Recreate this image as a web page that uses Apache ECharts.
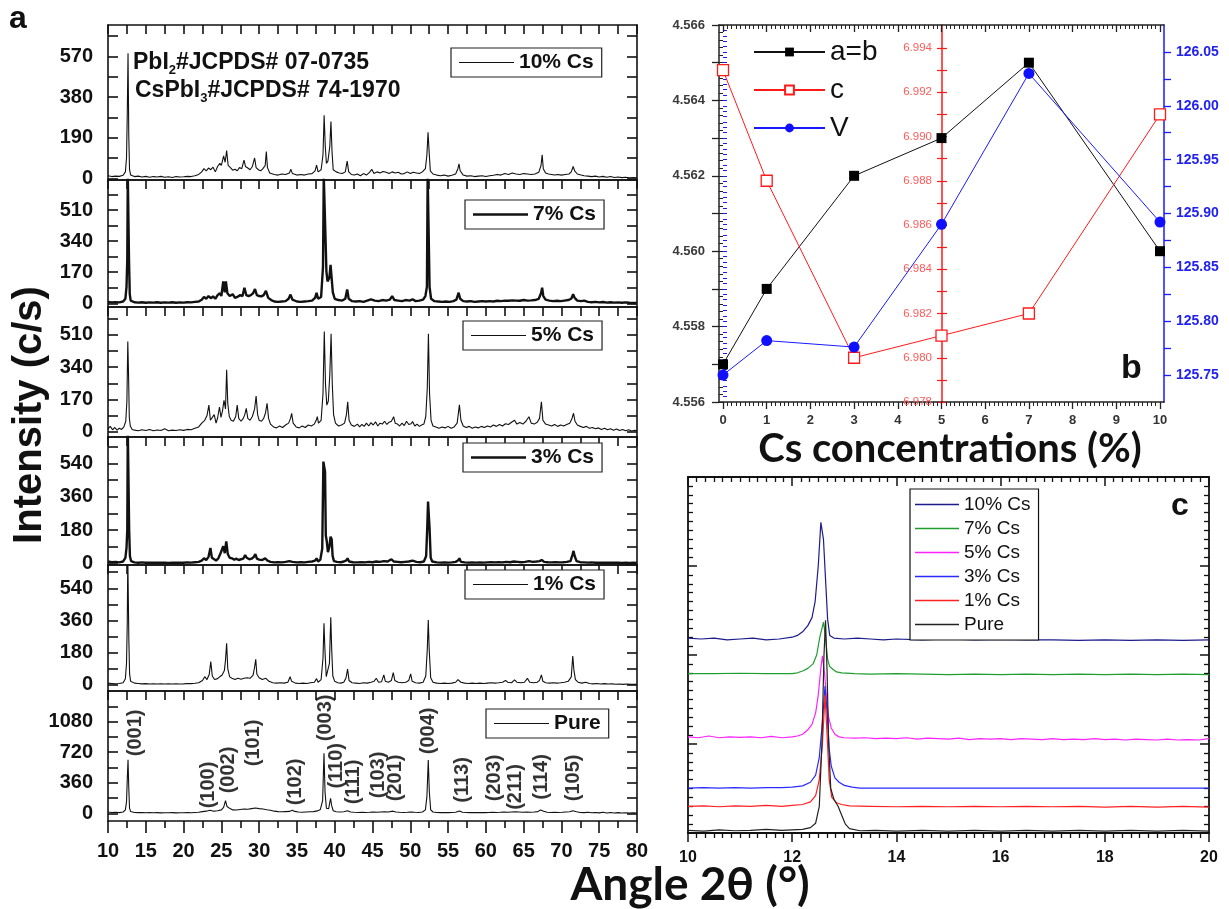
<!DOCTYPE html>
<html><head><meta charset="utf-8">
<script src="https://cdn.jsdelivr.net/npm/echarts@6/dist/echarts.min.js"></script>
<style>html,body{margin:0;padding:0;background:#fff}#c{width:1229px;height:909px}</style>
</head><body><div id="c"></div>
<script>
// ---------------- DATA ----------------
// Panel a: XRD patterns, flat [2theta, intensity, ...]
const t10 = [10.0,12, 10.5,8, 11,10, 11.5,9, 12.0,14, 12.3,30, 12.45,95, 12.55,300, 12.65,585, 12.75,200, 12.85,40, 13.0,15, 13.5,8, 14,10, 14.5,6, 15,9, 15.5,5, 16,8, 16.5,6, 17,9, 17.5,5, 18,7, 18.5,4, 19,8, 19.5,6, 20,7, 20.5,9, 21,8, 21.5,12, 22,18, 22.4,30, 22.7,45, 23.0,35, 23.3,48, 23.6,40, 23.9,52, 24.2,30, 24.5,55, 24.8,70, 25.0,60, 25.3,105, 25.5,75, 25.7,130, 25.9,60, 26.2,50, 26.5,38, 26.8,42, 27.1,35, 27.4,50, 27.7,45, 28.0,85, 28.2,55, 28.5,48, 28.8,40, 29.1,55, 29.4,95, 29.6,50, 29.9,40, 30.2,35, 30.5,45, 30.8,60, 30.95,125, 31.1,50, 31.4,25, 32,18, 32.5,15, 33,20, 33.5,18, 34.0,25, 34.2,42, 34.4,22, 35,15, 35.5,18, 36,15, 36.5,20, 37,22, 37.4,35, 37.6,62, 37.8,30, 38.2,40, 38.45,110, 38.6,295, 38.75,150, 38.9,70, 39.1,80, 39.35,150, 39.5,265, 39.65,120, 39.8,40, 40.2,30, 40.6,25, 41.0,22, 41.4,30, 41.65,80, 41.85,30, 42.2,18, 42.6,15, 43.0,20, 43.4,12, 43.8,22, 44.2,15, 44.6,28, 44.9,42, 45.2,22, 45.6,30, 46.0,25, 46.4,32, 46.8,28, 47.2,22, 47.6,30, 48.0,25, 48.4,28, 48.8,20, 49.2,22, 49.6,30, 50.0,22, 50.4,28, 50.8,25, 51.2,22, 51.6,30, 52.0,45, 52.2,110, 52.35,215, 52.5,120, 52.65,35, 53,20, 53.5,15, 54,12, 54.5,15, 55,10, 55.5,14, 56.0,20, 56.3,45, 56.45,68, 56.6,35, 57,15, 57.5,10, 58,12, 58.5,8, 59,10, 59.5,12, 60,8, 60.5,12, 61,14, 61.5,18, 62,15, 62.5,22, 63,18, 63.5,25, 64,20, 64.5,18, 65,22, 65.5,20, 66,18, 66.5,20, 67.0,28, 67.3,60, 67.45,110, 67.6,45, 67.9,25, 68.3,20, 68.7,18, 69.1,15, 69.5,18, 70,15, 70.5,18, 71,20, 71.3,30, 71.55,55, 71.75,35, 72.1,20, 72.6,15, 73,12, 73.5,10, 74,8, 74.5,10, 75,6, 75.5,9, 76,5, 76.5,8, 77,4, 77.5,6, 78,3, 78.5,5, 79,2, 79.5,4, 80,2];
const t7 = [10.0,8, 10.5,5, 11,6, 11.5,5, 12.0,10, 12.3,25, 12.45,90, 12.55,240, 12.62,700, 12.7,700, 12.78,240, 12.88,50, 13.0,15, 13.5,6, 14,4, 14.5,6, 15,3, 15.5,5, 16,4, 16.5,6, 17,3, 17.5,5, 18,4, 18.5,6, 19,3, 19.5,5, 20,4, 20.5,6, 21,5, 21.5,8, 22,10, 22.4,20, 22.7,35, 23.0,25, 23.3,40, 23.6,28, 23.9,38, 24.2,25, 24.5,45, 24.8,55, 25.0,40, 25.25,120, 25.45,60, 25.6,120, 25.8,55, 26.1,40, 26.5,50, 26.8,30, 27.1,35, 27.5,45, 27.8,40, 28.05,85, 28.3,45, 28.6,40, 28.9,45, 29.2,55, 29.45,78, 29.7,45, 30.0,40, 30.3,38, 30.6,45, 30.9,68, 31.2,30, 31.6,18, 32,10, 32.5,8, 33,10, 33.5,12, 33.9,25, 34.15,48, 34.4,20, 35,10, 35.5,8, 36,10, 36.5,12, 37.0,15, 37.4,30, 37.6,58, 37.8,25, 38.2,35, 38.45,200, 38.55,700, 38.7,700, 38.8,330, 38.9,175, 39.05,120, 39.3,140, 39.45,210, 39.6,200, 39.75,60, 40.0,25, 40.5,18, 41.0,15, 41.4,25, 41.65,76, 41.85,25, 42.3,12, 42.8,10, 43.3,12, 43.8,8, 44.3,15, 44.8,22, 45.3,15, 45.8,12, 46.3,18, 46.8,15, 47.3,20, 47.6,40, 47.9,18, 48.4,15, 48.9,12, 49.4,18, 49.9,15, 50.3,22, 50.7,12, 51.2,15, 51.7,20, 52.0,40, 52.2,90, 52.3,700, 52.45,700, 52.55,90, 52.75,25, 53.2,12, 53.7,10, 54.2,8, 54.7,10, 55.2,8, 55.7,12, 56.1,20, 56.4,58, 56.6,25, 57,12, 57.5,10, 58,12, 58.5,8, 59,10, 59.5,12, 60,10, 60.5,12, 61,10, 61.5,14, 62,12, 62.5,15, 63,14, 63.5,16, 64,15, 64.5,14, 65,18, 65.5,15, 66,16, 66.5,18, 67.0,25, 67.3,55, 67.45,85, 67.6,40, 67.9,20, 68.4,15, 68.9,12, 69.4,14, 69.9,12, 70.4,15, 70.9,18, 71.3,25, 71.55,50, 71.75,30, 72.1,15, 72.6,12, 73,15, 73.5,8, 74,6, 74.5,8, 75,5, 75.5,7, 76,4, 76.5,6, 77,4, 77.5,5, 78,3, 78.5,5, 79,3, 79.5,2, 80,2];
const t5 = [10.0,15, 10.3,28, 10.6,10, 10.9,22, 11.2,8, 11.5,18, 11.8,12, 12.1,25, 12.35,55, 12.5,160, 12.62,475, 12.72,300, 12.82,75, 12.95,30, 13.2,12, 13.5,8, 14,5, 14.5,10, 15,6, 15.5,12, 16,5, 16.5,9, 17,6, 17.5,15, 18,5, 18.5,8, 19,6, 19.5,10, 20,7, 20.5,12, 21,10, 21.5,18, 22,25, 22.4,45, 22.8,60, 23.1,85, 23.35,140, 23.55,60, 23.8,50, 24.05,90, 24.3,45, 24.5,72, 24.75,130, 24.95,75, 25.15,110, 25.35,165, 25.55,120, 25.7,326, 25.85,150, 26.05,80, 26.3,60, 26.6,55, 26.9,80, 27.1,140, 27.3,70, 27.6,55, 27.9,70, 28.1,90, 28.3,123, 28.5,70, 28.8,60, 29.1,80, 29.4,120, 29.6,188, 29.8,90, 30.0,60, 30.3,55, 30.6,70, 30.85,100, 31.05,150, 31.25,70, 31.5,40, 31.9,25, 32.3,20, 32.7,30, 33.1,22, 33.5,35, 33.9,45, 34.15,70, 34.3,97, 34.5,45, 34.9,25, 35.3,20, 35.7,30, 36.1,22, 36.5,35, 36.9,30, 37.3,40, 37.55,60, 37.7,79, 37.85,45, 38.2,60, 38.45,200, 38.62,528, 38.78,250, 38.95,140, 39.15,160, 39.35,300, 39.52,516, 39.68,250, 39.85,90, 40.1,45, 40.5,30, 40.9,35, 41.3,45, 41.55,90, 41.72,158, 41.9,60, 42.2,35, 42.6,28, 43.0,40, 43.3,25, 43.6,38, 43.9,28, 44.2,45, 44.5,30, 44.8,48, 45.1,35, 45.4,52, 45.7,30, 46.0,45, 46.3,40, 46.6,55, 46.9,38, 47.2,50, 47.5,55, 47.8,79, 48.0,45, 48.3,40, 48.6,30, 48.9,45, 49.2,32, 49.5,55, 49.8,38, 50.1,42, 50.3,53, 50.6,30, 50.9,40, 51.2,28, 51.5,35, 51.8,40, 52.05,80, 52.25,230, 52.4,516, 52.55,200, 52.75,60, 53.0,30, 53.4,25, 53.8,18, 54.2,25, 54.6,20, 55.0,28, 55.4,18, 55.8,25, 56.2,45, 56.5,141, 56.7,60, 57.0,30, 57.4,22, 57.8,28, 58.2,18, 58.6,25, 59.0,20, 59.4,28, 59.8,22, 60.2,30, 60.6,25, 61.0,35, 61.4,28, 61.8,38, 62.2,30, 62.6,42, 63.0,38, 63.4,50, 63.8,60, 64.1,40, 64.5,48, 64.9,40, 65.3,55, 65.7,79, 66.0,45, 66.4,40, 66.8,50, 67.1,70, 67.35,158, 67.55,60, 67.9,40, 68.3,35, 68.7,30, 69.1,38, 69.5,28, 69.9,35, 70.3,30, 70.7,38, 71.1,45, 71.4,70, 71.6,97, 71.8,55, 72.1,35, 72.5,28, 72.9,22, 73.3,28, 73.7,18, 74.1,22, 74.5,15, 74.9,20, 75.3,12, 75.7,18, 76.1,10, 76.5,15, 76.9,8, 77.3,14, 77.7,6, 78.1,12, 78.5,5, 78.9,10, 79.3,4, 79.7,8, 80,3];
const t3 = [10.0,10, 10.5,6, 11,8, 11.5,5, 12.0,10, 12.3,30, 12.45,83, 12.55,180, 12.62,720, 12.72,720, 12.8,180, 12.9,40, 13.05,12, 13.5,5, 14,3, 14.5,5, 15,3, 15.5,4, 16,3, 16.5,4, 17,3, 17.5,4, 18,2, 18.5,4, 19,3, 19.5,4, 20,3, 20.5,5, 21,4, 21.5,6, 22,8, 22.4,15, 22.7,27, 23.0,18, 23.3,35, 23.55,83, 23.75,30, 24.0,22, 24.3,15, 24.6,27, 24.85,50, 25.05,60, 25.25,92, 25.45,55, 25.65,119, 25.85,50, 26.1,30, 26.4,27, 26.7,20, 27.0,25, 27.3,18, 27.6,22, 27.9,25, 28.15,45, 28.35,30, 28.7,22, 29.0,25, 29.3,35, 29.5,50, 29.7,25, 30.0,20, 30.4,18, 30.8,27, 31.1,15, 31.5,8, 32,5, 32.5,6, 33,5, 33.5,8, 34.0,12, 34.2,22, 34.4,8, 35,5, 35.5,6, 36,5, 36.5,8, 37.0,10, 37.4,15, 37.6,27, 37.8,10, 38.1,20, 38.35,80, 38.5,549, 38.62,549, 38.72,495, 38.82,150, 38.95,119, 39.1,60, 39.3,90, 39.45,144, 39.6,130, 39.72,40, 39.9,12, 40.3,8, 40.8,6, 41.2,10, 41.5,15, 41.7,27, 41.9,10, 42.4,6, 43,5, 43.5,6, 44,5, 44.5,8, 45,6, 45.5,10, 46,8, 46.5,12, 47,10, 47.5,22, 47.8,10, 48.3,8, 48.8,6, 49.3,8, 49.8,10, 50.3,15, 50.8,8, 51.3,6, 51.8,10, 52.1,40, 52.25,200, 52.35,333, 52.45,333, 52.55,190, 52.7,30, 52.9,10, 53.5,5, 54,4, 54.5,5, 55,4, 55.5,5, 56.0,8, 56.3,15, 56.5,27, 56.7,8, 57.2,5, 57.7,4, 58.2,5, 58.7,4, 59.2,5, 59.7,4, 60.2,5, 60.7,6, 61.2,5, 61.7,6, 62.2,5, 62.7,8, 63.2,6, 63.7,10, 64.2,8, 64.7,6, 65.2,8, 65.7,12, 66.2,8, 66.7,10, 67.1,12, 67.4,18, 67.7,8, 68.2,6, 68.7,5, 69.2,6, 69.7,5, 70.2,6, 70.7,8, 71.2,12, 71.45,45, 71.6,67, 71.75,40, 72.0,12, 72.5,6, 73,5, 73.5,4, 74,5, 74.5,3, 75,4, 75.5,3, 76,4, 76.5,3, 77,4, 77.5,3, 78,2, 78.5,3, 79,2, 79.5,3, 80,2];
const t1 = [10.0,10, 10.5,8, 11,6, 11.5,8, 12.0,12, 12.3,35, 12.45,121, 12.55,350, 12.62,720, 12.68,720, 12.76,250, 12.86,60, 13.0,20, 13.5,10, 14,8, 14.5,6, 15,7, 15.5,5, 16,6, 16.5,5, 17,6, 17.5,5, 18,6, 18.5,5, 19,6, 19.5,5, 20,6, 20.5,8, 21,7, 21.5,9, 22,12, 22.5,25, 22.8,46, 23.1,30, 23.4,60, 23.6,130, 23.8,50, 24.1,30, 24.5,35, 24.8,46, 25.1,55, 25.4,80, 25.55,140, 25.7,233, 25.85,90, 26.1,45, 26.4,37, 26.8,30, 27.2,37, 27.6,32, 28.0,37, 28.4,40, 28.8,37, 29.2,55, 29.4,100, 29.55,143, 29.7,60, 30.0,40, 30.4,30, 30.9,37, 31.3,20, 31.8,12, 32.3,10, 32.8,12, 33.3,10, 33.8,15, 34.1,46, 34.3,20, 34.8,10, 35.3,8, 35.8,10, 36.3,8, 36.8,12, 37.3,15, 37.6,35, 37.8,15, 38.2,30, 38.45,150, 38.58,345, 38.7,200, 38.88,46, 39.05,40, 39.3,120, 39.48,378, 39.6,200, 39.75,50, 40.0,20, 40.4,12, 40.8,10, 41.2,15, 41.5,40, 41.7,88, 41.9,25, 42.3,12, 42.8,10, 43.3,8, 43.8,12, 44.3,10, 44.8,15, 45.2,20, 45.5,37, 45.8,15, 46.2,18, 46.5,56, 46.7,20, 47.1,15, 47.5,25, 47.75,69, 47.95,25, 48.4,15, 48.9,12, 49.4,15, 49.8,25, 50.05,62, 50.25,20, 50.7,12, 51.2,10, 51.7,15, 52.05,50, 52.25,200, 52.38,363, 52.5,200, 52.7,40, 53.0,15, 53.5,10, 54,8, 54.5,10, 55,8, 55.5,10, 56.0,15, 56.3,30, 56.5,37, 56.7,15, 57.2,10, 57.7,8, 58.2,10, 58.7,8, 59.2,10, 59.7,8, 60.2,10, 60.7,12, 61.2,10, 61.7,12, 62.2,15, 62.6,25, 62.9,15, 63.4,12, 63.8,28, 64.1,15, 64.6,12, 65.1,15, 65.5,37, 65.8,15, 66.3,12, 66.8,15, 67.1,25, 67.35,56, 67.55,20, 67.9,12, 68.4,10, 68.9,12, 69.4,10, 69.9,12, 70.4,15, 70.9,20, 71.3,45, 71.5,162, 71.65,84, 71.85,30, 72.2,15, 72.7,10, 73.2,15, 73.7,8, 74.2,6, 74.7,8, 75.2,5, 75.7,7, 76.2,5, 76.7,6, 77.2,4, 77.7,5, 78.2,3, 78.7,5, 79.2,3, 79.7,4, 80,3];
const tPure = [10.0,15, 10.5,10, 11,12, 11.5,8, 12.0,15, 12.3,40, 12.45,135, 12.55,400, 12.65,630, 12.75,300, 12.85,60, 13.0,20, 13.5,10, 14,8, 14.5,10, 15,6, 15.5,8, 16,6, 16.5,8, 17,5, 17.5,7, 18,6, 18.5,8, 19,5, 19.5,7, 20,6, 20.5,8, 21,7, 21.5,10, 22,12, 22.5,20, 23.0,25, 23.5,35, 24.0,25, 24.5,30, 25.0,40, 25.3,70, 25.55,149, 25.75,80, 25.95,98, 26.15,55, 26.5,40, 27.0,38, 27.5,45, 28.0,50, 28.5,48, 29.0,55, 29.5,62, 30.0,55, 30.5,50, 31.0,42, 31.5,35, 32.0,25, 32.5,20, 33.0,18, 33.5,20, 34.0,22, 34.4,35, 34.7,22, 35.2,15, 35.7,12, 36.2,15, 36.7,18, 37.2,20, 37.7,28, 38.1,45, 38.4,150, 38.58,708, 38.72,250, 38.9,60, 39.2,55, 39.45,177, 39.6,90, 39.8,30, 40.2,18, 40.7,15, 41.2,18, 41.7,30, 42.1,15, 42.6,12, 43.1,10, 43.6,12, 44.1,10, 44.6,12, 45.1,15, 45.6,12, 46.1,15, 46.6,18, 47.1,15, 47.7,25, 48.1,15, 48.6,12, 49.1,10, 49.6,12, 50.1,15, 50.6,12, 51.1,10, 51.6,15, 52.0,40, 52.2,200, 52.38,629, 52.52,250, 52.7,40, 53.0,15, 53.5,10, 54,8, 54.5,10, 55,8, 55.5,10, 56.0,12, 56.5,28, 56.9,12, 57.4,10, 57.9,8, 58.4,10, 58.9,8, 59.4,10, 59.9,8, 60.4,10, 60.9,12, 61.4,10, 61.9,12, 62.4,15, 62.9,12, 63.4,15, 63.9,18, 64.4,15, 64.9,12, 65.4,15, 65.9,12, 66.4,15, 66.9,20, 67.25,40, 67.45,55, 67.65,25, 68.1,12, 68.6,10, 69.1,12, 69.6,10, 70.1,12, 70.6,15, 71.1,18, 71.5,30, 71.75,35, 72.0,18, 72.5,10, 73.0,8, 73.5,12, 74.0,6, 74.5,10, 75.0,5, 75.5,12, 76.0,4, 76.5,10, 77.0,4, 77.5,8, 78.0,3, 78.5,6, 79.0,3, 79.5,5, 80,3];
const aNames = ['10% Cs','7% Cs','5% Cs','3% Cs','1% Cs','Pure'];
const aTickLabels = [[0,190,380,570],[0,170,340,510],[0,170,340,510],[0,180,360,540],[0,180,360,540],[0,360,720,1080]];
const xTickLabelsA = [10,15,20,25,30,35,40,45,50,55,60,65,70,75,80];
const hklNames = ['(001)','(100)','(002)','(101)','(102)','(003)','(110)','(111)','(103)','(201)','(004)','(113)','(203)','(211)','(114)','(105)'];
const hklX = [13.65,23.25,25.95,29.2,34.75,38.8,40.25,42.45,45.75,48.05,52.45,56.85,61.15,63.95,67.35,71.65];
const hklY = [948,334,511,830,370,1125,560,370,452,417,972,393,417,310,428,417];

// Panel b: lattice parameters vs Cs %
const csConc = [0,1,3,5,7,10];
const latticeAB = [4.557,4.559,4.562,4.563,4.565,4.560];
const latticeC = [6.993,6.988,6.980,6.981,6.982,6.991];
const cellV = [125.75,125.782,125.776,125.890,126.030,125.892];
const bLeftLabels = [4.556,4.558,4.560,4.562,4.564,4.566];
const bRedLabels = [6.978,6.980,6.982,6.984,6.986,6.988,6.990,6.992,6.994];
const bBlueLabels = [125.75,125.80,125.85,125.90,125.95,126.00,126.05];
const bXLabels = [0,1,2,3,4,5,6,7,8,9,10];

// Panel c: zoom on (001) peak, offset traces
const cNames = ['10% Cs','7% Cs','5% Cs','3% Cs','1% Cs','Pure'];
const c10 = [10.0,2.19, 10.25,2.18, 10.5,2.19, 10.75,2.17, 11.0,2.18, 11.25,2.19, 11.5,2.17, 11.75,2.18, 12.0,2.2, 12.1,2.22, 12.2,2.26, 12.3,2.33, 12.38,2.42, 12.44,2.6, 12.5,3.0, 12.55,3.49, 12.6,3.3, 12.64,2.85, 12.68,2.4, 12.72,2.22, 12.8,2.19, 13.0,2.18, 13.25,2.19, 13.5,2.18, 13.75,2.17, 14.0,2.18, 14.5,2.17, 15.0,2.18, 15.5,2.17, 16.0,2.175, 16.5,2.17, 17.0,2.17, 17.5,2.165, 18.0,2.17, 18.5,2.165, 19.0,2.17, 19.5,2.165, 20.0,2.17];
const c7 = [10.0,1.79, 10.5,1.79, 11.0,1.795, 11.5,1.79, 12.0,1.79, 12.1,1.80, 12.2,1.82, 12.3,1.85, 12.4,1.9, 12.47,2.0, 12.53,2.2, 12.6,2.37, 12.64,2.2, 12.68,1.95, 12.72,1.87, 12.78,1.84, 12.85,1.81, 12.95,1.80, 13.2,1.79, 13.5,1.785, 14.0,1.79, 14.5,1.785, 15.0,1.78, 15.5,1.785, 16.0,1.78, 16.5,1.785, 17.0,1.78, 17.5,1.785, 18.0,1.78, 18.5,1.785, 19.0,1.78, 19.5,1.785, 20.0,1.78];
const c5 = [10.0,1.08, 10.2,1.07, 10.4,1.09, 10.6,1.07, 10.8,1.08, 11.0,1.075, 11.2,1.08, 11.4,1.07, 11.6,1.085, 11.8,1.07, 12.0,1.08, 12.1,1.09, 12.2,1.11, 12.3,1.16, 12.38,1.22, 12.45,1.35, 12.5,1.55, 12.55,1.85, 12.58,1.99, 12.62,1.80, 12.66,1.5, 12.7,1.3, 12.75,1.18, 12.82,1.11, 12.9,1.08, 13.0,1.07, 13.2,1.065, 13.4,1.07, 13.6,1.06, 13.8,1.065, 14.0,1.06, 14.2,1.07, 14.4,1.055, 14.6,1.065, 14.8,1.06, 15.0,1.055, 15.2,1.065, 15.4,1.05, 15.6,1.06, 15.8,1.055, 16.0,1.06, 16.2,1.05, 16.4,1.06, 16.6,1.055, 16.8,1.05, 17.0,1.06, 17.2,1.05, 17.4,1.055, 17.6,1.05, 17.8,1.06, 18.0,1.05, 18.2,1.055, 18.4,1.045, 18.6,1.055, 18.8,1.05, 19.0,1.045, 19.2,1.055, 19.4,1.045, 19.6,1.05, 19.8,1.045, 20.0,1.06];
const c3 = [10.0,0.505, 10.3,0.51, 10.6,0.505, 10.9,0.51, 11.2,0.505, 11.5,0.51, 11.8,0.51, 12.0,0.515, 12.2,0.53, 12.35,0.57, 12.45,0.65, 12.52,0.85, 12.58,1.25, 12.63,1.65, 12.67,1.35, 12.71,0.95, 12.75,0.75, 12.82,0.62, 12.9,0.57, 13.0,0.535, 13.15,0.515, 13.3,0.505, 14.0,0.505, 16.0,0.505, 18.0,0.505, 20.0,0.505];
const c1 = [10.0,0.30, 10.3,0.305, 10.6,0.295, 10.9,0.305, 11.2,0.30, 11.5,0.31, 11.8,0.30, 12.0,0.31, 12.2,0.32, 12.35,0.35, 12.45,0.42, 12.52,0.6, 12.58,1.0, 12.63,1.55, 12.67,1.1, 12.71,0.6, 12.76,0.4, 12.85,0.34, 12.95,0.32, 13.1,0.305, 13.5,0.30, 14.0,0.295, 14.5,0.30, 15.0,0.295, 15.5,0.30, 16.0,0.295, 16.5,0.30, 17.0,0.295, 17.5,0.30, 18.0,0.29, 18.5,0.30, 19.0,0.29, 19.5,0.30, 20.0,0.29];
const cPure = [10.0,0.03, 10.3,0.02, 10.6,0.035, 10.9,0.025, 11.2,0.03, 11.5,0.04, 11.8,0.03, 12.0,0.035, 12.2,0.04, 12.35,0.06, 12.45,0.11, 12.52,0.3, 12.57,1.0, 12.61,2.0, 12.64,2.39, 12.67,1.8, 12.7,1.0, 12.74,0.5, 12.8,0.38, 12.88,0.3, 12.95,0.2, 13.02,0.1, 13.1,0.05, 13.3,0.025, 13.6,0.03, 14.0,0.02, 14.5,0.03, 15.0,0.02, 15.5,0.03, 16.0,0.02, 16.5,0.03, 17.0,0.02, 17.5,0.03, 18.0,0.02, 18.5,0.03, 19.0,0.02, 19.5,0.03, 20.0,0.02];
const cXLabels = [10,12,14,16,18,20];

// ---------------- LAYOUT / STYLE ----------------
const FONT = '"Liberation Sans", Arial, sans-serif';
const TFONT = 'Lato, "Open Sans", sans-serif';
const aTraces = [t10,t7,t5,t3,t1,tPure];
const aTop = [25,180,307,437,565,691];
const aBot = [180,307,437,565,691,821];
const aMin = [-8,-20,-28,-9,-34,-91];
const aMax = [717,674,657,682,670,1442];
const aLW = [1.1,2.4,1.1,2.4,1.1,1.1];
const aLegL = [451,465,463,463,465,486];
const aLegT = [48,200,321,443,570,709];
const cColors = ['#1c1c8c','#1f9e2f','#ff22ff','#2a2aff','#ff2020','#222222'];
const cTraces = [c10,c7,c5,c3,c1,cPure];

function pairs(a){const r=[];for(let i=0;i<a.length;i+=2)r.push([a[i],a[i+1]]);return r;}
function steps(a,b,s){const r=[];const n=Math.round((b-a)/s);for(let i=0;i<=n;i++)r.push(+(a+i*s).toFixed(6));return r;}

const LC = '#111';
const grid=[], xAxis=[], yAxis=[], series=[], legend=[];

for(let i=0;i<6;i++){
  grid.push({left:108, width:529, top:aTop[i], height:aBot[i]-aTop[i], containLabel:false, outerBoundsMode:'none'});
  const last = i===5;
  xAxis.push({type:'value', gridIndex:i, min:10, max:80, interval:5, position:'bottom',
    axisLine:{show:true,onZero:false,lineStyle:{color:LC,width:1.6}},
    axisTick:{show:last,inside:false,length:12,lineStyle:{color:LC,width:1.6}},
    minorTick:{show:last,splitNumber:2,length:7,lineStyle:{color:LC,width:1.6}},
    axisLabel:{show:last,margin:20,fontSize:20,fontWeight:'bold',color:LC,fontFamily:FONT,customValues:xTickLabelsA},
    splitLine:{show:false}});
  xAxis.push({type:'value', gridIndex:i, min:10, max:80, interval:5, position:'top',
    axisLine:{show:true,onZero:false,lineStyle:{color:LC,width:1.6}},
    axisTick:{show:true,inside:true,length:9,lineStyle:{color:LC,width:1.6}},
    minorTick:{show:true,splitNumber:2,length:9,lineStyle:{color:LC,width:1.6}},
    axisLabel:{show:false}, splitLine:{show:false}});
  const lab = aTickLabels[i];
  const half = (lab[1]-lab[0])/2;
  const tks = steps(0, lab[lab.length-1]+half, half).filter(v=>v<aMax[i]);
  yAxis.push({type:'value', gridIndex:i, min:aMin[i], max:aMax[i], position:'left',
    axisLine:{show:true,onZero:false,lineStyle:{color:LC,width:1.6}},
    axisTick:{show:true,inside:true,length:10,customValues:tks,lineStyle:{color:LC,width:1.6}},
    axisLabel:{show:true,customValues:lab,margin:15,fontSize:20,fontWeight:'bold',color:LC,fontFamily:FONT,formatter:v=>String(v)},
    splitLine:{show:false}});
  yAxis.push({type:'value', gridIndex:i, min:aMin[i], max:aMax[i], position:'right',
    axisLine:{show:true,onZero:false,lineStyle:{color:LC,width:1.6}},
    axisTick:{show:true,inside:true,length:10,customValues:tks,lineStyle:{color:LC,width:1.6}},
    axisLabel:{show:false}, splitLine:{show:false}});
  series.push({type:'line', name:aNames[i], xAxisIndex:2*i, yAxisIndex:2*i, data:pairs(aTraces[i]),
    symbol:'none', showSymbol:false, clip:true, lineStyle:{color:'#111',width:aLW[i]}, itemStyle:{color:'#111'}, z:3});
  legend.push({data:[aNames[i]], left:aLegL[i], top:aLegT[i], orient:'horizontal', selectedMode:false,
    icon:'rect', itemWidth:55, itemHeight:aLW[i], itemGap:0, padding:[4,8,4,8], borderColor:'#222', borderWidth:1.2, backgroundColor:'#fff',
    textStyle:{fontSize:21,fontWeight:'bold',color:'#111',fontFamily:FONT}});
}
// hkl annotations in Pure subplot
series.push({type:'scatter', name:'hkl', xAxisIndex:10, yAxisIndex:10, symbolSize:0, silent:true, z:5,
  data: hklNames.map((n,k)=>({name:n, value:[hklX[k], hklY[k]]})),
  label:{show:true, position:'inside', formatter:'{b}', rotate:90, fontSize:20, fontWeight:'bold', color:'#000', fontFamily:FONT}});

// ---- Panel b (grid 6)
grid.push({left:719, right:65, top:25, bottom:507, containLabel:false, outerBoundsMode:'none'});
const bxMin=-0.0915, bxMax=10.0915;
const bMinorX = steps(0,10,0.1);
xAxis.push({type:'value', gridIndex:6, min:bxMin, max:bxMax, position:'bottom',
  axisLine:{show:true,onZero:false,lineStyle:{color:'#222',width:1.5}},
  axisTick:{show:true,inside:false,length:7,customValues:bXLabels,lineStyle:{color:'#222',width:1.3}},
  axisLabel:{show:true,customValues:bXLabels,margin:12,fontSize:13,fontWeight:'bold',color:'#333',fontFamily:FONT},
  splitLine:{show:false}});
xAxis.push({type:'value', gridIndex:6, min:bxMin, max:bxMax, position:'bottom',
  axisLine:{show:false}, axisTick:{show:true,inside:false,length:4,customValues:bMinorX,lineStyle:{color:'#222',width:1}},
  axisLabel:{show:false}, splitLine:{show:false}});
xAxis.push({type:'value', gridIndex:6, min:bxMin, max:bxMax, position:'top',
  axisLine:{show:true,onZero:false,lineStyle:{color:'#222',width:1.5}},
  axisTick:{show:true,inside:true,length:7,customValues:bXLabels,lineStyle:{color:'#222',width:1.3}},
  axisLabel:{show:false}, splitLine:{show:false}});
xAxis.push({type:'value', gridIndex:6, min:bxMin, max:bxMax, position:'top',
  axisLine:{show:false}, axisTick:{show:true,inside:true,length:4,customValues:bMinorX,lineStyle:{color:'#222',width:1}},
  axisLabel:{show:false}, splitLine:{show:false}});
// left (a=b)
yAxis.push({type:'value', gridIndex:6, min:4.556, max:4.566, position:'left',
  axisLine:{show:true,onZero:false,lineStyle:{color:'#222',width:1.5}},
  axisTick:{show:true,inside:false,length:7,customValues:steps(4.556,4.566,0.001),lineStyle:{color:'#222',width:1.3}},
  axisLabel:{show:true,customValues:bLeftLabels,margin:14,fontSize:13,fontWeight:'bold',color:'#3a3a3a',fontFamily:FONT,formatter:v=>v.toFixed(3)},
  splitLine:{show:false}});
yAxis.push({type:'value', gridIndex:6, min:4.556, max:4.566, position:'left',
  axisLine:{show:false}, axisTick:{show:true,inside:false,length:4,customValues:steps(4.556,4.566,0.0002),lineStyle:{color:'#222',width:1}},
  axisLabel:{show:false}, splitLine:{show:false}});
// red (c)
const redTicks = steps(6.978,6.994,0.001);
yAxis.push({type:'value', gridIndex:6, min:6.978, max:6.99504, position:'left', offset:-223,
  axisLine:{show:true,onZero:false,lineStyle:{color:'#ff1a1a',width:1.5}},
  axisTick:{show:true,inside:false,length:5,customValues:redTicks,lineStyle:{color:'#ff1a1a',width:1.2}},
  axisLabel:{show:true,customValues:bRedLabels,margin:10,fontSize:11.5,color:'#ff5a5a',fontFamily:FONT,formatter:v=>v.toFixed(3)},
  splitLine:{show:false}});
yAxis.push({type:'value', gridIndex:6, min:6.978, max:6.99504, position:'left', offset:-223,
  axisLine:{show:false}, axisTick:{show:true,inside:true,length:5,customValues:redTicks,lineStyle:{color:'#ff1a1a',width:1.2}},
  axisLabel:{show:false}, splitLine:{show:false}});
// blue (V)
yAxis.push({type:'value', gridIndex:6, min:125.725, max:126.075, position:'right',
  axisLine:{show:true,onZero:false,lineStyle:{color:'#1a1aff',width:1.5}},
  axisTick:{show:true,inside:false,length:7,customValues:steps(125.75,126.05,0.025),lineStyle:{color:'#1a1aff',width:1.3}},
  axisLabel:{show:true,customValues:bBlueLabels,margin:12,fontSize:14,fontWeight:'bold',color:'#2222ee',fontFamily:FONT,formatter:v=>v.toFixed(2)},
  splitLine:{show:false}});
yAxis.push({type:'value', gridIndex:6, min:125.725, max:126.075, position:'right',
  axisLine:{show:false}, axisTick:{show:true,inside:false,length:4,customValues:steps(125.73,126.07,0.005),lineStyle:{color:'#1a1aff',width:1}},
  axisLabel:{show:false}, splitLine:{show:false}});

series.push({type:'line', name:'a=b', xAxisIndex:12, yAxisIndex:12, data:csConc.map((x,k)=>[x,latticeAB[k]]),
  symbol:'rect', symbolSize:10, lineStyle:{color:'#111',width:1}, itemStyle:{color:'#000'}, z:4});
series.push({type:'line', name:'c', xAxisIndex:12, yAxisIndex:14, data:csConc.map((x,k)=>[x,latticeC[k]]),
  symbol:'rect', symbolSize:11, lineStyle:{color:'#ff1a1a',width:1}, itemStyle:{color:'#fff',borderColor:'#ff1a1a',borderWidth:1.3}, z:4});
series.push({type:'line', name:'V', xAxisIndex:12, yAxisIndex:16, data:csConc.map((x,k)=>[x,cellV[k]]),
  symbol:'circle', symbolSize:11, lineStyle:{color:'#1a1aff',width:1}, itemStyle:{color:'#1010ff'}, z:4});
legend.push({data:['a=b','c','V'], left:753, top:38, orient:'vertical', selectedMode:false,
  itemWidth:71, itemHeight:11, itemGap:10, padding:0,
  textStyle:{fontSize:28,color:'#111',fontFamily:FONT}});

// ---- Panel c (grid 7)
grid.push({left:688, right:20, top:477, bottom:76, containLabel:false, outerBoundsMode:'none'});
xAxis.push({type:'value', gridIndex:7, min:10, max:20, interval:2, position:'bottom',
  axisLine:{show:true,onZero:false,lineStyle:{color:'#111',width:1.8}},
  axisTick:{show:true,inside:false,length:9,lineStyle:{color:'#111',width:1.5}},
  minorTick:{show:true,splitNumber:12,length:5,lineStyle:{color:'#111',width:1.3}},
  axisLabel:{show:true,customValues:cXLabels,margin:17,fontSize:16,fontWeight:'bold',color:'#111',fontFamily:FONT},
  splitLine:{show:false}});
xAxis.push({type:'value', gridIndex:7, min:10, max:20, interval:2, position:'top',
  axisLine:{show:true,onZero:false,lineStyle:{color:'#111',width:1.8}},
  axisTick:{show:true,inside:true,length:9,lineStyle:{color:'#111',width:1.5}},
  minorTick:{show:true,splitNumber:12,length:5,lineStyle:{color:'#111',width:1.3}},
  axisLabel:{show:false}, splitLine:{show:false}});
for(const pos of ['left','right']){
  yAxis.push({type:'value', gridIndex:7, min:0, max:4, interval:1, position:pos,
    axisLine:{show:true,onZero:false,lineStyle:{color:'#111',width:1.8}},
    axisTick:{show:true,inside:true,length:9,lineStyle:{color:'#111',width:1.5}},
    minorTick:{show:true,splitNumber:10,length:5,lineStyle:{color:'#111',width:1.3}},
    axisLabel:{show:false}, splitLine:{show:false}});
}
for(let k=0;k<6;k++){
  series.push({type:'line', name:'c:'+cNames[k], xAxisIndex:16, yAxisIndex:18, data:pairs(cTraces[k]),
    symbol:'none', showSymbol:false, clip:true, lineStyle:{color:cColors[k],width:1.2}, itemStyle:{color:cColors[k]}, z:3+k*0.01});
}
legend.push({data:cNames.map(n=>'c:'+n), left:910, top:489, orient:'vertical', selectedMode:false,
  icon:'rect', itemWidth:44, itemHeight:1.5, itemGap:3, padding:[5,8,5,5], borderColor:'#111', borderWidth:1.2, backgroundColor:'#fff',
  formatter:n=>n.slice(2), textStyle:{fontSize:19,lineHeight:21,color:'#111',fontFamily:FONT}});

const graphic = [
  {type:'text', left:9, top:3, style:{text:'a', font:'bold 32px '+FONT, fill:'#111'}},
  {type:'text', left:1121, top:352, style:{text:'b', font:'bold 34px '+FONT, fill:'#111'}},
  {type:'text', left:1171, top:490, style:{text:'c', font:'bold 32px '+FONT, fill:'#111'}},
  {type:'text', x:30, y:415, rotation:Math.PI/2, style:{text:'Intensity (c/s)', font:'bold 40px '+FONT, fill:'#111', align:'center', verticalAlign:'middle'}},
  {type:'text', x:690, y:885, style:{text:'Angle 2θ (°)', font:'bold 46px '+TFONT, fill:'#111', align:'center', verticalAlign:'middle'}},
  {type:'text', x:950, y:449, style:{text:'Cs concentrations (%)', font:'bold 40px '+TFONT, fill:'#111', align:'center', verticalAlign:'middle'}},
  {type:'text', left:133, top:44, style:{text:'{m|PbI}{s|2}{m|#JCPDS# 07-0735}', fill:'#111',
    rich:{m:{fontSize:23,fontWeight:'bold',fontFamily:FONT,lineHeight:26,verticalAlign:'top',fill:'#111'},
          s:{fontSize:13,fontWeight:'bold',fontFamily:FONT,lineHeight:13,padding:[20,0,0,0],verticalAlign:'bottom',fill:'#111'}}}},
  {type:'text', left:135, top:72, style:{text:'{m|CsPbI}{s|3}{m|#JCPDS# 74-1970}', fill:'#111',
    rich:{m:{fontSize:23,fontWeight:'bold',fontFamily:FONT,lineHeight:26,verticalAlign:'top',fill:'#111'},
          s:{fontSize:13,fontWeight:'bold',fontFamily:FONT,lineHeight:13,padding:[20,0,0,0],verticalAlign:'bottom',fill:'#111'}}}}
];

const chart = echarts.init(document.getElementById('c'), null, {renderer:'canvas'});
chart.setOption({animation:false, backgroundColor:'#fff', grid, xAxis, yAxis, series, legend, graphic});
</script></body></html>
